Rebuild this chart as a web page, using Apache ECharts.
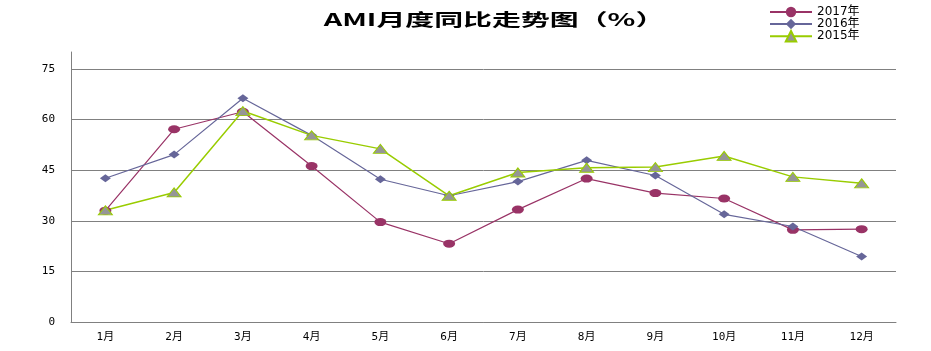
<!DOCTYPE html>
<html>
<head>
<meta charset="utf-8">
<script src="https://cdn.jsdelivr.net/npm/echarts@6/dist/echarts.min.js"></script>
<style>html,body{margin:0;padding:0;background:#fff}#c{width:931px;height:351px}</style>
</head>
<body>
<div id="c"></div>
<script>
const titleText = 'AMI月度同比走势图（%）';
const categories = ['1月','2月','3月','4月','5月','6月','7月','8月','9月','10月','11月','12月'];
const seriesNames = ['2017年','2016年','2015年'];
const values2017 = [33, 57.1, 62.3, 46.2, 29.6, 23.2, 33.3, 42.5, 38.2, 36.6, 27.3, 27.5];
const values2016 = [42.6, 49.6, 66.3, 55.3, 42.3, 37.4, 41.6, 47.9, 43.4, 31.9, 28.3, 19.4];
const values2015 = [33.1, 38.4, 62.5, 55.3, 51.3, 37.4, 44.3, 45.7, 45.9, 49.2, 43, 41.1];
const yMin = 0, yMax = 80, yInterval = 15;

const chart = echarts.init(document.getElementById('c'), null, {renderer: 'canvas'});
const tickFont = '"DejaVu Sans Mono", "Noto Sans CJK SC", monospace';
chart.setOption({
  animation: false,
  backgroundColor: '#ffffff',
  graphic: [{
    type: 'text',
    x: 494, y: 20,
    scaleX: 1.7,
    style: {
      text: titleText,
      textAlign: 'center', textVerticalAlign: 'middle',
      font: 'bold 17px "Noto Sans CJK SC", sans-serif',
      fill: '#000'
    }
  }],
  legend: {
    orient: 'vertical', left: 764, top: 1,
    itemWidth: 42, itemHeight: 13, itemGap: 0,
    data: seriesNames,
    textStyle: {fontSize: 12, fontFamily: '"DejaVu Sans", "Noto Sans CJK SC", sans-serif', color: '#000'}
  },
  grid: {left: 71, right: 35, top: 52, bottom: 29, containLabel: false},
  xAxis: {
    type: 'category', data: categories, boundaryGap: true,
    axisLine: {lineStyle: {color: '#808080', width: 1}},
    axisTick: {show: false},
    axisLabel: {color: '#000', fontSize: 11, fontFamily: tickFont, margin: 10, interval: 0}
  },
  yAxis: {
    type: 'value', min: yMin, max: yMax, interval: yInterval,
    axisLine: {show: true, lineStyle: {color: '#808080', width: 1}},
    axisTick: {show: false},
    axisLabel: {color: '#000', fontSize: 11, fontFamily: tickFont, margin: 16, showMaxLabel: false},
    splitLine: {show: true, showMaxLine: false, lineStyle: {color: '#808080', width: 1}}
  },
  series: [
    {
      name: seriesNames[0], type: 'line', data: values2017,
      symbol: 'circle', symbolSize: [12, 8],
      lineStyle: {color: '#993366', width: 1.2},
      itemStyle: {color: '#993366'}
    },
    {
      name: seriesNames[1], type: 'line', data: values2016,
      symbol: 'diamond', symbolSize: [11, 8],
      lineStyle: {color: '#666699', width: 1.2},
      itemStyle: {color: '#666699'}
    },
    {
      name: seriesNames[2], type: 'line', data: values2015,
      symbol: 'triangle', symbolSize: [14, 9],
      lineStyle: {color: '#99CC00', width: 1.5},
      itemStyle: {color: '#969696', borderColor: '#99CC00', borderWidth: 1}
    }
  ]
});
</script>
</body>
</html>
